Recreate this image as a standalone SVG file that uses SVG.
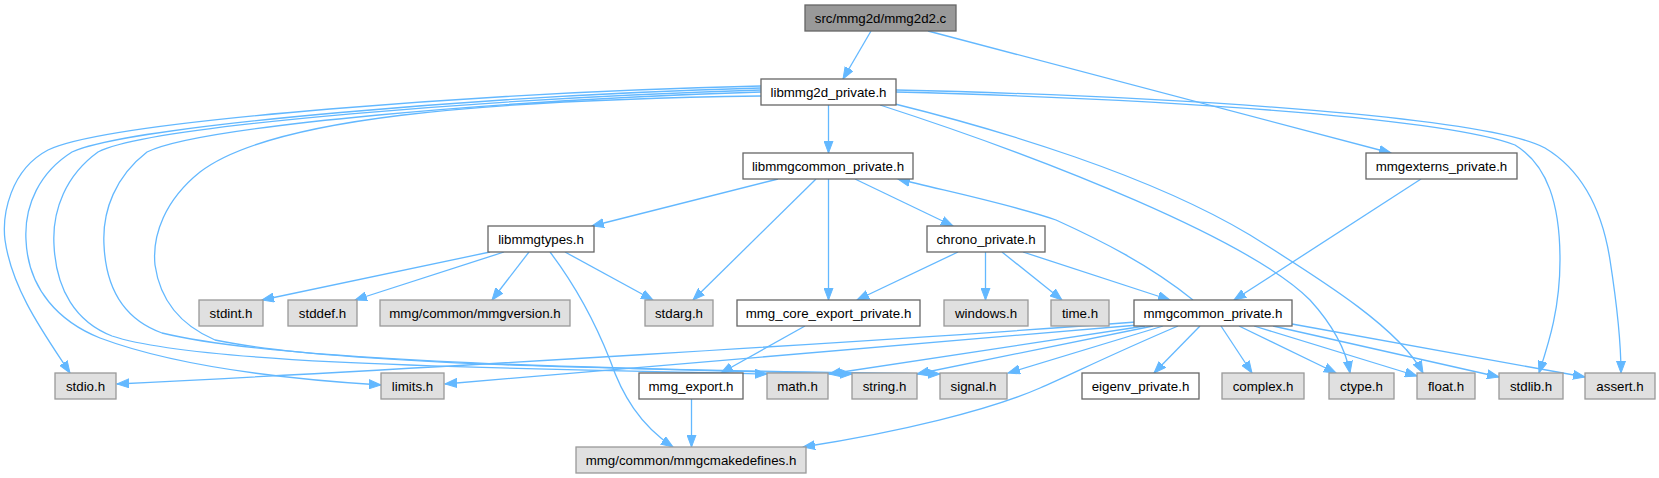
<svg xmlns="http://www.w3.org/2000/svg" width="1659" height="478" viewBox="0 0 1659 478">
<style>
.e{fill:none;stroke:#63b8ff;stroke-width:1.3;marker-end:url(#a)}
.n rect{stroke-width:1.3}
.w rect{fill:#ffffff;stroke:#666666}
.g rect{fill:#e0e0e0;stroke:#999999}
.r rect{fill:#999999;stroke:#666666}
text{font-family:"Liberation Sans",Helvetica,Arial,sans-serif;font-size:13.3px;fill:#000000;text-anchor:middle}
</style>
<defs>
<marker id="a" markerUnits="userSpaceOnUse" markerWidth="14" markerHeight="10" refX="12" refY="5" orient="auto" viewBox="0 0 14 10">
<path d="M0,0.5 L12,5 L0,9.5 z" fill="#63b8ff" stroke="#63b8ff" stroke-width="1"/>
</marker>
</defs>
<rect width="1659" height="478" fill="#ffffff"/>
<g id="connectors">
<path class="e" d="M871,31 L843,79"/>
<path class="e" d="M928,31 L1391,153"/>
<path class="e" d="M828.5,105 L828.5,153"/>
<path class="e" d="M761,86 C500,92 110,120 48,150 C10,170 2,215 5,240 C12,290 45,335 70,373"/>
<path class="e" d="M761,88 C500,95 130,125 72,152 C40,172 24,205 26,240 C28,290 60,322 100,338 C180,368 300,380 381,385"/>
<path class="e" d="M761,90 C500,98 150,125 98,152 C66,175 52,210 54,245 C56,290 76,322 112,336 C200,365 500,368 767,374"/>
<path class="e" d="M761,92 C500,100 200,126 147,152 C116,176 102,210 104,245 C106,290 126,320 162,333 C280,362 600,368 852,374"/>
<path class="e" d="M761,96 C480,100 270,118 200,172 C165,200 152,235 155,265 C160,300 180,325 215,340 C350,368 700,370 940,374"/>
<path class="e" d="M880,105 C1050,160 1250,240 1310,300 C1330,322 1345,345 1350,373"/>
<path class="e" d="M895,104 C1000,130 1150,175 1250,235 C1330,285 1400,330 1423,373"/>
<path class="e" d="M896,92 C1200,100 1450,120 1515,145 C1548,165 1560,205 1560,260 C1560,310 1548,345 1539,373"/>
<path class="e" d="M896,90 C1200,97 1490,118 1545,148 C1585,172 1603,215 1610,260 C1617,305 1621,340 1621,373"/>
<path class="e" d="M778,179 L592,226"/>
<path class="e" d="M816,179 L693,300"/>
<path class="e" d="M828.5,179 L828.5,300"/>
<path class="e" d="M855,179 L953,226"/>
<path class="e" d="M490,252 L262,300"/>
<path class="e" d="M504,252 L355,300"/>
<path class="e" d="M529,252 L492,300"/>
<path class="e" d="M565,252 L653,300"/>
<path class="e" d="M550,252 C575,285 595,322 610,360 C622,395 640,425 673,447"/>
<path class="e" d="M958,252 L857,300"/>
<path class="e" d="M985.5,252 L985.5,300"/>
<path class="e" d="M1002,252 L1062,300"/>
<path class="e" d="M1023,252 L1170,300"/>
<path class="e" d="M805,326 L721,373"/>
<path class="e" d="M691.5,399 L691.5,447"/>
<path class="e" d="M1421,179 L1234,300"/>
<path class="e" d="M1193,300 C1150,265 1100,240 1056,220 C1010,204 950,192 898,179"/>
<path class="e" d="M1136,322 C900,340 400,370 117,384"/>
<path class="e" d="M1138,325 L445,384"/>
<path class="e" d="M1145,326 L829,374"/>
<path class="e" d="M1153,326 L917,374"/>
<path class="e" d="M1163,326 L1008,373"/>
<path class="e" d="M1178,326 C1110,355 1070,375 1040,388 C990,410 900,432 803,447"/>
<path class="e" d="M1200,326 L1154,373"/>
<path class="e" d="M1221,326 L1252,373"/>
<path class="e" d="M1239,326 L1336,373"/>
<path class="e" d="M1254,326 L1417,376"/>
<path class="e" d="M1273,326 L1499,377"/>
<path class="e" d="M1292,324 L1585,377"/>
</g>
<g id="root" class="n r"><rect x="805" y="5" width="151" height="26"/><text x="880.5" y="22.5">src/mmg2d/mmg2d2.c</text></g>
<g id="libmmg2d_private" class="n w"><rect x="761" y="79" width="135" height="26"/><text x="828.5" y="96.5">libmmg2d_private.h</text></g>
<g id="libmmgcommon_private" class="n w"><rect x="743" y="153" width="170" height="26"/><text x="828" y="170.5">libmmgcommon_private.h</text></g>
<g id="mmgexterns_private" class="n w"><rect x="1366" y="153" width="151" height="26"/><text x="1441.5" y="170.5">mmgexterns_private.h</text></g>
<g id="libmmgtypes" class="n w"><rect x="488" y="226" width="106" height="26"/><text x="541" y="243.5">libmmgtypes.h</text></g>
<g id="chrono_private" class="n w"><rect x="927" y="226" width="118" height="26"/><text x="986" y="243.5">chrono_private.h</text></g>
<g id="stdint" class="n g"><rect x="199" y="300" width="64" height="26"/><text x="231" y="317.5">stdint.h</text></g>
<g id="stddef" class="n g"><rect x="288" y="300" width="69" height="26"/><text x="322.5" y="317.5">stddef.h</text></g>
<g id="mmgversion" class="n g"><rect x="380" y="300" width="190" height="26"/><text x="475" y="317.5">mmg/common/mmgversion.h</text></g>
<g id="stdarg" class="n g"><rect x="645" y="300" width="68" height="26"/><text x="679" y="317.5">stdarg.h</text></g>
<g id="mmg_core_export_private" class="n w"><rect x="737" y="300" width="183" height="26"/><text x="828.5" y="317.5">mmg_core_export_private.h</text></g>
<g id="windows" class="n g"><rect x="944" y="300" width="84" height="26"/><text x="986" y="317.5">windows.h</text></g>
<g id="time" class="n g"><rect x="1051" y="300" width="58" height="26"/><text x="1080" y="317.5">time.h</text></g>
<g id="mmgcommon_private" class="n w"><rect x="1134" y="300" width="158" height="26"/><text x="1213" y="317.5">mmgcommon_private.h</text></g>
<g id="stdio" class="n g"><rect x="55" y="373" width="61" height="26"/><text x="85.5" y="390.5">stdio.h</text></g>
<g id="limits" class="n g"><rect x="381" y="373" width="63" height="26"/><text x="412.5" y="390.5">limits.h</text></g>
<g id="mmg_export" class="n w"><rect x="639" y="373" width="104" height="26"/><text x="691" y="390.5">mmg_export.h</text></g>
<g id="math" class="n g"><rect x="767" y="373" width="61" height="26"/><text x="797.5" y="390.5">math.h</text></g>
<g id="string" class="n g"><rect x="852" y="373" width="65" height="26"/><text x="884.5" y="390.5">string.h</text></g>
<g id="signal" class="n g"><rect x="940" y="373" width="67" height="26"/><text x="973.5" y="390.5">signal.h</text></g>
<g id="eigenv_private" class="n w"><rect x="1082" y="373" width="117" height="26"/><text x="1140.5" y="390.5">eigenv_private.h</text></g>
<g id="complex" class="n g"><rect x="1222" y="373" width="82" height="26"/><text x="1263" y="390.5">complex.h</text></g>
<g id="ctype" class="n g"><rect x="1329" y="373" width="65" height="26"/><text x="1361.5" y="390.5">ctype.h</text></g>
<g id="float" class="n g"><rect x="1417" y="373" width="58" height="26"/><text x="1446" y="390.5">float.h</text></g>
<g id="stdlib" class="n g"><rect x="1499" y="373" width="64" height="26"/><text x="1531" y="390.5">stdlib.h</text></g>
<g id="assert" class="n g"><rect x="1585" y="373" width="70" height="26"/><text x="1620" y="390.5">assert.h</text></g>
<g id="mmgcmakedefines" class="n g"><rect x="576" y="447" width="230" height="26"/><text x="691" y="464.5">mmg/common/mmgcmakedefines.h</text></g>
</svg>
